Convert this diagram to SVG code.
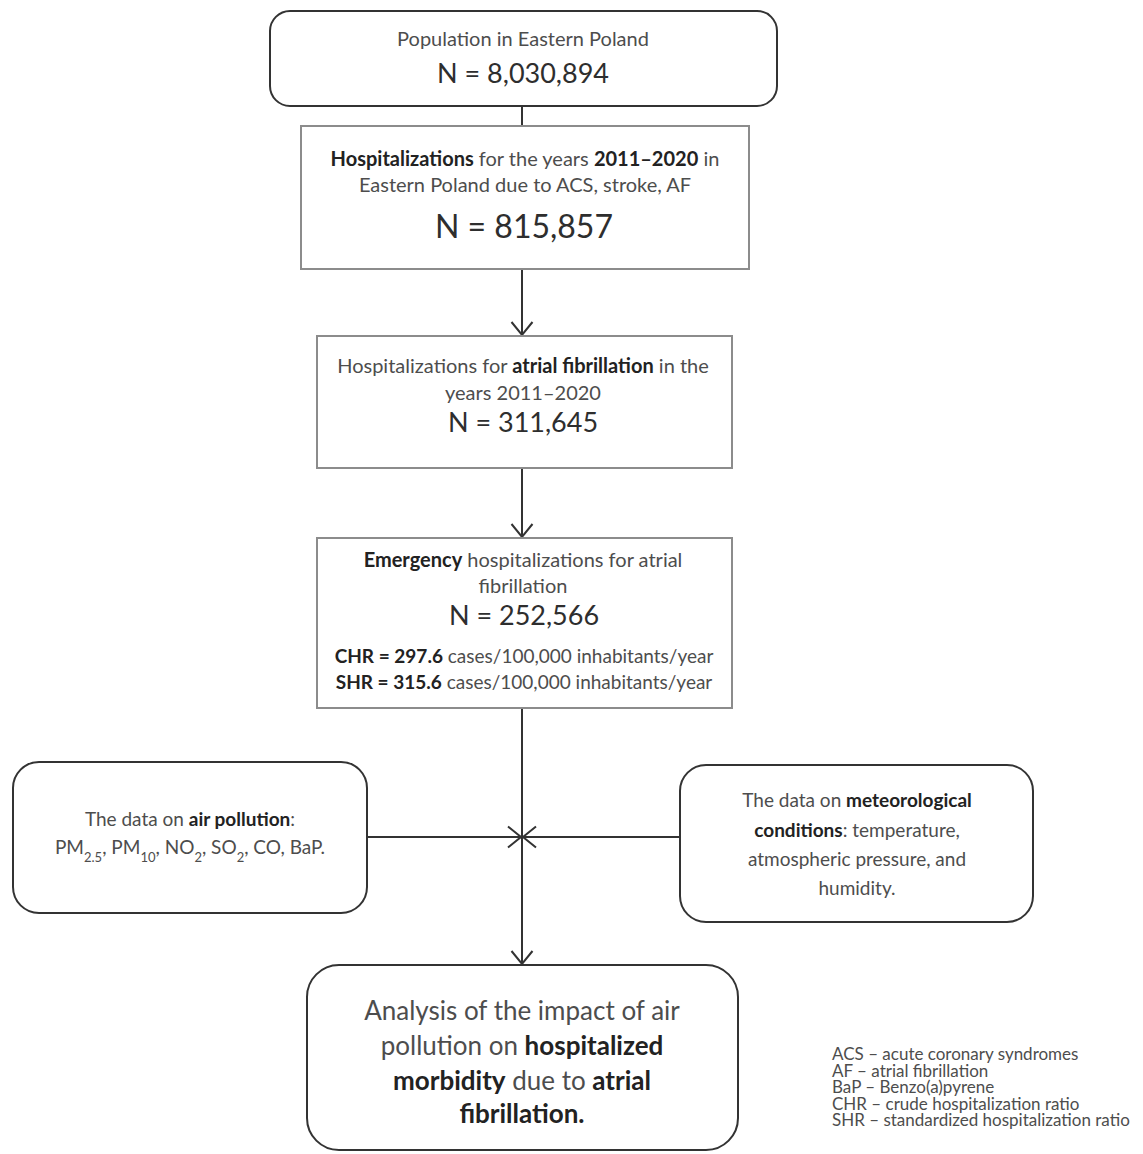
<svg xmlns="http://www.w3.org/2000/svg" width="1143" height="1154" viewBox="0 0 1143 1154">
<style>
text{font-family:Lato,"Open Sans","Liberation Sans",sans-serif;fill:#4d4d4d;text-anchor:middle}
.b{font-weight:bold;fill:#222}
.n{fill:#2e2e2e}
.rr{fill:#fff;stroke:#333;stroke-width:2}
.sq{fill:#fff;stroke:#8c8c8c;stroke-width:2}
.c{stroke:#333;stroke-width:2;fill:none}
.leg{text-anchor:start;font-size:17px}
</style>
<defs>
<marker id="ah" markerUnits="userSpaceOnUse" viewBox="0 0 16 24" refX="14" refY="12" markerWidth="16" markerHeight="24" orient="auto">
<path d="M1,1.5 L14,12 L1,22.5" fill="none" stroke="#333" stroke-width="2"/>
</marker>
</defs>
<rect width="1143" height="1154" fill="#fff"/>
<g id="connectors">
<line class="c" x1="522" y1="106" x2="522" y2="126"/>
<line class="c" x1="522" y1="269" x2="522" y2="335" marker-end="url(#ah)"/>
<line class="c" x1="522" y1="468" x2="522" y2="537" marker-end="url(#ah)"/>
<line class="c" x1="522" y1="708" x2="522" y2="964" marker-end="url(#ah)"/>
<line class="c" x1="367" y1="837" x2="521" y2="837" marker-end="url(#ah)"/>
<line class="c" x1="680" y1="837" x2="523" y2="837" marker-end="url(#ah)"/>
</g>
<g id="population">
<rect class="rr" x="270" y="11" width="507" height="95" rx="20"/>
<text x="523" y="46" font-size="20">Population in Eastern Poland</text>
<text class="n" x="523" y="83" font-size="27">N = 8,030,894</text>
</g>
<g id="hospitalizations">
<rect class="sq" x="301" y="126" width="448" height="143"/>
<text x="525" y="166" font-size="20"><tspan class="b">Hospitalizations</tspan> for the years <tspan class="b">2011–2020</tspan> in</text>
<text x="525" y="192" font-size="20">Eastern Poland due to ACS, stroke, AF</text>
<text class="n" x="524" y="238" font-size="32">N = 815,857</text>
</g>
<g id="af">
<rect class="sq" x="317" y="336" width="415" height="132"/>
<text x="523" y="373" font-size="20">Hospitalizations for <tspan class="b">atrial fibrillation</tspan> in the</text>
<text x="523" y="400" font-size="20">years 2011–2020</text>
<text class="n" x="523" y="432" font-size="27">N = 311,645</text>
</g>
<g id="emergency">
<rect class="sq" x="317" y="538" width="415" height="170"/>
<text x="523" y="567" font-size="20"><tspan class="b">Emergency</tspan> hospitalizations for atrial</text>
<text x="523" y="593" font-size="20">fibrillation</text>
<text class="n" x="524" y="625" font-size="27">N = 252,566</text>
<text x="524" y="663" font-size="19"><tspan class="b">CHR = 297.6</tspan> cases/100,000 inhabitants/year</text>
<text x="524" y="689" font-size="19"><tspan class="b">SHR = 315.6</tspan> cases/100,000 inhabitants/year</text>
</g>
<g id="air-pollution">
<rect class="rr" x="13" y="762" width="354" height="151" rx="26"/>
<text x="190" y="826" font-size="19">The data on <tspan class="b">air pollution</tspan>:</text>
<text x="190" y="854" font-size="19">PM<tspan font-size="13" baseline-shift="sub">2.5</tspan>, PM<tspan font-size="13" baseline-shift="sub">10</tspan>, NO<tspan font-size="13" baseline-shift="sub">2</tspan>, SO<tspan font-size="13" baseline-shift="sub">2</tspan>, CO, BaP.</text>
</g>
<g id="meteorological">
<rect class="rr" x="680" y="765" width="353" height="157" rx="26"/>
<text x="857" y="807" font-size="19">The data on <tspan class="b">meteorological</tspan></text>
<text x="857" y="837" font-size="19"><tspan class="b">conditions</tspan>: temperature,</text>
<text x="857" y="866" font-size="19">atmospheric pressure, and</text>
<text x="857" y="895" font-size="19">humidity.</text>
</g>
<g id="analysis">
<rect class="rr" x="307" y="965" width="431" height="185" rx="32"/>
<text x="522" y="1020" font-size="26">Analysis of the impact of air</text>
<text x="522" y="1055" font-size="26">pollution on <tspan class="b">hospitalized</tspan></text>
<text x="522" y="1090" font-size="26"><tspan class="b">morbidity</tspan> due to <tspan class="b">atrial</tspan></text>
<text x="522" y="1123" font-size="26" class="b">fibrillation.</text>
</g>
<g id="legend">
<text class="leg" x="832" y="1060"><tspan x="832">ACS – acute coronary syndromes</tspan><tspan x="832" dy="16.5">AF – atrial fibrillation</tspan><tspan x="832" dy="16.5">BaP – Benzo(a)pyrene</tspan><tspan x="832" dy="16.5">CHR – crude hospitalization ratio</tspan><tspan x="832" dy="16.5">SHR – standardized hospitalization ratio</tspan></text>
</g>
</svg>
